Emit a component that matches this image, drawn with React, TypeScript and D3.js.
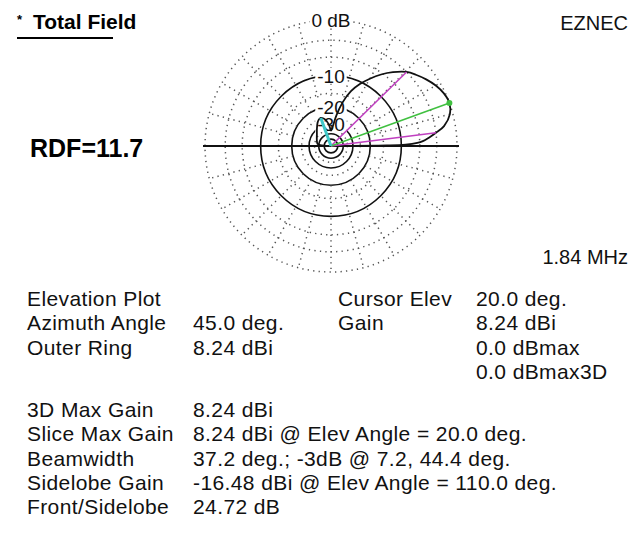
import React from "react";
import * as d3 from "d3";

// Elevation pattern (total field), gain relative to slice maximum, in dB
const elevDeg = [0, 0.5, 1, 2, 3, 5, 7.2, 10, 15, 20, 25, 30, 35, 40, 44.4, 50, 55, 60, 65, 70, 75, 80, 85, 90, 95, 100, 105, 110, 115, 120, 130, 140, 150, 160, 170, 175, 178, 180];
const gainDb = [-80, -14, -9, -6.5, -5.4, -4.2, -3, -1.6, -0.4, 0, -0.2, -0.7, -1.4, -2.2, -3, -4.6, -6.3, -8.3, -10.5, -13.2, -17.5, -24, -32, -36, -31, -27.5, -25.5, -24.72, -25.2, -26.5, -30, -33, -35, -36.5, -38, -42, -50, -80];

// Grid rings (dB) and labelled rings
const ringDb = [0, -3, -6, -10, -15, -20, -25, -30, -35, -40, -50];
const ringLabels = [
  { db: 0, text: "0 dB" },
  { db: -10, text: "-10" },
  { db: -20, text: "-20" },
  { db: -30, text: "-30" },
];
const spokeDeg = d3.range(15, 360, 15).filter((a) => a !== 180);

// Cursor / beamwidth / sidelobe markers
const maxElev = 20.0;
const maxDb = 0;
const halfPowerElev = [7.2, 44.4];
const halfPowerDb = -3;
const sidelobeElev = 110.0;
const sidelobeDb = -24.72;

// Header and info text
const title = "Total Field";
const brand = "EZNEC";
const rdfText = "RDF=11.7";
const freqText = "1.84 MHz";
const infoLeft = [
  ["Elevation Plot", ""],
  ["Azimuth Angle", "45.0 deg."],
  ["Outer Ring", "8.24 dBi"],
];
const infoRight = [
  ["Cursor Elev", "20.0 deg."],
  ["Gain", "8.24 dBi"],
  ["", "0.0 dBmax"],
  ["", "0.0 dBmax3D"],
];
const infoBottom = [
  ["3D Max Gain", "8.24 dBi"],
  ["Slice Max Gain", "8.24 dBi @ Elev Angle = 20.0 deg."],
  ["Beamwidth", "37.2 deg.; -3dB @ 7.2, 44.4 deg."],
  ["Sidelobe Gain", "-16.48 dBi @ Elev Angle = 110.0 deg."],
  ["Front/Sidelobe", "24.72 dB"],
];

const W = 630;
const H = 537;
const cx = 331;
const cy = 146;
const R = 126;
const FONT = "'Liberation Sans', Arial, sans-serif";

// ARRL log scale: radius shrinks by 0.89 every 2 dB
const rScale = d3.scaleLinear().domain([0, 1]).range([0, R]);
const arrl = (db: number) => rScale(Math.pow(0.89, -db / 2));
const toXY = (deg: number, r: number): [number, number] => {
  const a = (deg * Math.PI) / 180;
  return [cx + r * Math.cos(a), cy - r * Math.sin(a)];
};

export default function App() {
  const pts = elevDeg.map((e, i) => toXY(e, arrl(gainDb[i])));
  const patternPath = d3.line().curve(d3.curveCatmullRom.alpha(0.5))(pts) || "";

  const dotStyle = {
    fill: "none",
    stroke: "#555",
    strokeWidth: 1.5,
    strokeDasharray: "1.3 4.2",
  };

  const rowY0 = 306;
  const rowStep = 24.3;
  const rowY1 = 417;
  const col1 = 27;
  const col2 = 193;
  const col3 = 338;
  const col4 = 476;

  const [gx, gy] = toXY(maxElev, arrl(maxDb));
  const [cyx, cyy] = toXY(sidelobeElev, arrl(sidelobeDb));

  return (
    <svg
      width={W}
      height={H}
      style={{ position: "absolute", left: 0, top: 0, background: "#fff" }}
      fontFamily={FONT}
    >
      <rect width={W} height={H} fill="#fff" />

      {/* grid rings */}
      {ringDb.map((db) =>
        db % 10 === 0 && db !== 0 ? (
          <circle key={db} cx={cx} cy={cy} r={arrl(db)} fill="none" stroke="#111" strokeWidth={1.6} />
        ) : (
          <circle key={db} cx={cx} cy={cy} r={arrl(db)} style={dotStyle} />
        )
      )}

      {/* radial spokes */}
      {spokeDeg.map((a) => {
        const [x1, y1] = toXY(a, arrl(-20));
        const [x2, y2] = toXY(a, R);
        return <line key={a} x1={x1} y1={y1} x2={x2} y2={y2} style={dotStyle} />;
      })}

      {/* ground line */}
      <line x1={cx - R - 2} y1={cy} x2={cx + R + 2} y2={cy} stroke="#111" strokeWidth={2} />

      {/* ring labels */}
      {ringLabels.map((l) => {
        const y = cy - arrl(l.db);
        const w = l.text.length * 10.5;
        return (
          <g key={l.db}>
            <rect x={cx - w / 2} y={y - 8} width={w} height={16} fill="#fff" />
            <text x={cx} y={y + 7} textAnchor="middle" fontSize={19} fill="#111">
              {l.text}
            </text>
          </g>
        );
      })}

      {/* pattern */}
      <path d={patternPath} fill="none" stroke="#111" strokeWidth={1.8} />

      {/* -3 dB beamwidth markers */}
      {halfPowerElev.map((e) => {
        const [x, y] = toXY(e, arrl(halfPowerDb));
        return <line key={e} x1={cx} y1={cy} x2={x} y2={y} stroke="#c040c0" strokeWidth={1.6} />;
      })}

      {/* cursor at maximum */}
      <line x1={cx} y1={cy} x2={gx} y2={gy} stroke="#40c040" strokeWidth={1.6} />
      <circle cx={gx} cy={gy} r={3} fill="#40c040" />

      {/* sidelobe marker */}
      <line x1={cx} y1={cy} x2={cyx} y2={cyy} stroke="#40c8c8" strokeWidth={3} />

      {/* header */}
      <text x={17} y={24} fontSize={13} fontWeight="bold" fill="#000">*</text>
      <text x={33} y={29} fontSize={21} fontWeight="bold" fill="#000">{title}</text>
      <line x1={17} y1={38} x2={113} y2={38} stroke="#000" strokeWidth={2} />
      <text x={628} y={30} fontSize={20} textAnchor="end" fill="#111">{brand}</text>
      <text x={30} y={157} fontSize={25} fontWeight="bold" fill="#000">{rdfText}</text>
      <text x={628} y={264} fontSize={20} textAnchor="end" fill="#111">{freqText}</text>

      {/* info table */}
      <g fontSize={21} letterSpacing={0.4} fill="#111">
        {infoLeft.map(([k, v], i) => (
          <g key={"l" + i}>
            <text x={col1} y={rowY0 + i * rowStep}>{k}</text>
            <text x={col2} y={rowY0 + i * rowStep}>{v}</text>
          </g>
        ))}
        {infoRight.map(([k, v], i) => (
          <g key={"r" + i}>
            <text x={col3} y={rowY0 + i * rowStep}>{k}</text>
            <text x={col4} y={rowY0 + i * rowStep}>{v}</text>
          </g>
        ))}
        {infoBottom.map(([k, v], i) => (
          <g key={"b" + i}>
            <text x={col1} y={rowY1 + i * rowStep}>{k}</text>
            <text x={col2} y={rowY1 + i * rowStep}>{v}</text>
          </g>
        ))}
      </g>
    </svg>
  );
}
